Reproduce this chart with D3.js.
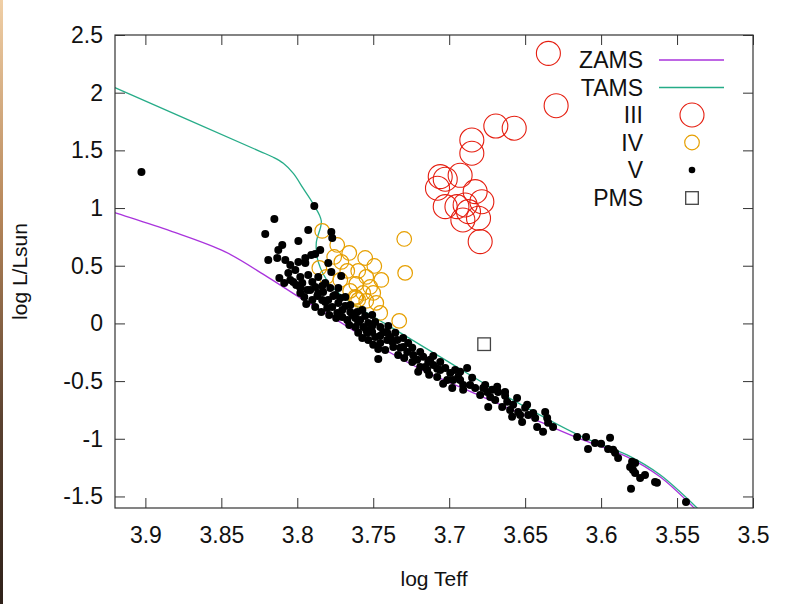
<!DOCTYPE html>
<html>
<head>
<meta charset="utf-8">
<script src="https://cdn.jsdelivr.net/npm/d3@7"></script>
<style>
  html, body { margin: 0; padding: 0; background: #fff; }
  svg { display: block; font-family: "Liberation Sans", Arial, sans-serif; }
</style>
</head>
<body>
<svg id="chart" width="792" height="604"></svg>
<script>
// HR diagram: log Teff vs log L/Lsun

const xTicks = [3.9, 3.85, 3.8, 3.75, 3.7, 3.65, 3.6, 3.55, 3.5];
const yTicks = [2.5, 2, 1.5, 1, 0.5, 0, -0.5, -1, -1.5];

// [log Teff, log L]
const zams = [
  [3.930, 1.003], [3.9197, 0.958], [3.8836, 0.802], [3.8474, 0.620], [3.8197, 0.403],
  [3.7980, 0.221], [3.7783, 0.065], [3.7520, -0.152], [3.7191, -0.394], [3.6796, -0.628],
  [3.6401, -0.854], [3.6138, -1.001], [3.5829, -1.157], [3.5612, -1.330], [3.5395, -1.590],
  [3.5350, -1.650]
];

const tams = [
  [3.930, 2.101], [3.9197, 2.041], [3.8250, 1.494], [3.8158, 1.440], [3.8092, 1.388],
  [3.8026, 1.300], [3.7961, 1.170], [3.7895, 1.035], [3.7842, 0.888], [3.7875, 0.698],
  [3.7862, 0.533], [3.7783, 0.334], [3.7651, 0.186], [3.7408, -0.013], [3.7059, -0.290],
  [3.6665, -0.602], [3.6138, -0.975], [3.5829, -1.140], [3.5612, -1.312], [3.5368, -1.599],
  [3.5330, -1.650]
];

const giantsIII = [
  [3.6347, 2.341], [3.6296, 1.887], [3.6693, 1.711], [3.6572, 1.692], [3.6851, 1.590],
  [3.6851, 1.475], [3.6928, 1.284], [3.7059, 1.272], [3.7026, 1.250], [3.7077, 1.172],
  [3.6829, 1.142], [3.6785, 1.055], [3.7026, 1.012], [3.6949, 1.012], [3.6895, 1.027],
  [3.6873, 0.969], [3.6910, 0.897], [3.6807, 0.912], [3.6796, 0.709]
];

const subgiantsIV = [
  [3.7836, 0.802], [3.7737, 0.680], [3.7658, 0.611], [3.7757, 0.576], [3.7296, 0.732],
  [3.7290, 0.438], [3.7493, 0.498], [3.7855, 0.481], [3.7809, 0.403], [3.7717, 0.377],
  [3.7671, 0.455], [3.7599, 0.455], [3.7546, 0.403], [3.7447, 0.377], [3.7612, 0.342],
  [3.7520, 0.316], [3.7652, 0.282], [3.7566, 0.264], [3.7612, 0.221], [3.7599, 0.204],
  [3.7618, 0.230], [3.7500, 0.264], [3.7546, 0.195], [3.7480, 0.178], [3.7454, 0.091],
  [3.7329, 0.022], [3.7553, 0.567], [3.7710, 0.533]
];

const dwarfsV = [
  [3.9026, 1.313], [3.8151, 0.906], [3.8211, 0.776], [3.7888, 1.018], [3.7928, 0.810],
  [3.7993, 0.715], [3.8099, 0.680], [3.8125, 0.637], [3.8191, 0.550], [3.8132, 0.568],
  [3.7776, 0.793], [3.7770, 0.741], [3.7849, 0.637], [3.7947, 0.524], [3.8046, 0.507],
  [3.8013, 0.464], [3.8059, 0.438], [3.7947, 0.568], [3.7908, 0.594], [3.7882, 0.602],
  [3.8118, 0.394], [3.7980, 0.403], [3.7928, 0.420], [3.7967, 0.351], [3.7862, 0.403],
  [3.7796, 0.524], [3.7776, 0.446], [3.7711, 0.412], [3.7934, 0.290], [3.7882, 0.316],
  [3.7816, 0.351], [3.7750, 0.247], [3.7684, 0.230], [3.7901, 0.204], [3.7816, 0.186],
  [3.7770, 0.143], [3.7882, 0.143], [3.7704, 0.117], [3.7980, 0.264], [3.7915, 0.290],
  [3.7836, 0.204], [3.7803, 0.134], [3.7763, 0.238], [3.7737, 0.091], [3.7704, 0.056],
  [3.7671, 0.030], [3.7638, 0.074], [3.7605, 0.100], [3.7586, 0.030], [3.7618, -0.030],
  [3.7566, -0.030], [3.7533, 0.004], [3.7507, 0.074], [3.7487, 0.013], [3.7454, -0.030],
  [3.7434, -0.074], [3.7408, -0.082], [3.7507, -0.074], [3.7540, -0.082], [3.7487, -0.117],
  [3.7533, -0.143], [3.7500, -0.186], [3.7454, -0.169], [3.7408, -0.143], [3.7375, -0.160],
  [3.7342, -0.143], [3.7368, -0.204], [3.7421, -0.230], [3.7322, -0.212], [3.7270, -0.169],
  [3.7276, -0.247], [3.7237, -0.273], [3.7211, -0.316], [3.7171, -0.290], [3.7138, -0.334],
  [3.7191, -0.377], [3.7145, -0.403], [3.7105, -0.360], [3.7079, -0.464], [3.7467, -0.308],
  [3.7125, -0.316], [3.7158, -0.377], [3.7059, -0.403], [3.7026, -0.386], [3.6993, -0.429],
  [3.7013, -0.490], [3.6974, -0.490], [3.6882, -0.386], [3.6928, -0.490], [3.6908, -0.533],
  [3.6862, -0.533], [3.6829, -0.559], [3.6908, -0.576], [3.6796, -0.620], [3.6750, -0.594],
  [3.6717, -0.576], [3.6678, -0.594], [3.6730, -0.637], [3.6697, -0.663], [3.6743, -0.724],
  [3.6651, -0.724], [3.6618, -0.680], [3.6579, -0.706], [3.6599, -0.750], [3.6586, -0.810],
  [3.6546, -0.767], [3.6533, -0.793], [3.6480, -0.793], [3.6447, -0.776], [3.6520, -0.854],
  [3.6434, -0.819], [3.6421, -0.897], [3.6355, -0.819], [3.6349, -0.862], [3.6316, -0.897],
  [3.6382, -0.940], [3.6158, -0.984], [3.6099, -0.984], [3.6086, -1.088], [3.6040, -1.036],
  [3.6000, -1.044], [3.5941, -0.992], [3.5954, -1.088], [3.5921, -1.096], [3.5908, -1.122],
  [3.5888, -1.166], [3.5796, -1.200], [3.5776, -1.209], [3.5809, -1.244], [3.5790, -1.270],
  [3.5776, -1.296], [3.5743, -1.339], [3.5711, -1.313], [3.5645, -1.374], [3.5632, -1.382],
  [3.5803, -1.434], [3.5441, -1.547],
  [3.8007, 0.334], [3.7954, 0.230], [3.7862, 0.264], [3.7842, 0.100], [3.7790, 0.074],
  [3.7730, 0.178], [3.7651, 0.160], [3.7658, -0.013], [3.7599, -0.082], [3.7572, -0.126],
  [3.7467, -0.221], [3.7336, -0.273], [3.7296, -0.299], [3.7243, -0.334], [3.7204, -0.420],
  [3.7132, -0.446], [3.7040, -0.524], [3.6980, -0.559], [3.8046, 0.377], [3.8079, 0.550],
  [3.7830, 0.273], [3.7783, 0.308], [3.7618, 0.048], [3.7553, 0.065], [3.7388, -0.117],
  [3.7303, -0.204], [3.7079, -0.394], [3.6941, -0.464], [3.6776, -0.559], [3.6632, -0.628],
  [3.6500, -0.732],
  [3.8086, 0.351], [3.8026, 0.360], [3.7901, 0.360], [3.7836, 0.325], [3.7730, 0.308],
  [3.7868, 0.238], [3.7796, 0.204], [3.7717, 0.221], [3.7744, 0.048], [3.7651, 0.100],
  [3.7572, 0.117], [3.7599, 0.013], [3.7507, -0.022], [3.7401, -0.022], [3.7355, -0.082],
  [3.7454, -0.108], [3.7303, -0.126], [3.7243, -0.212], [3.7191, -0.247], [3.7105, -0.282],
  [3.7059, -0.334], [3.6961, -0.403], [3.6928, -0.420], [3.6849, -0.472], [3.6763, -0.533],
  [3.6684, -0.550], [3.6632, -0.594], [3.6553, -0.646], [3.6487, -0.706], [3.6368, -0.767],
  [3.7993, 0.533], [3.7980, 0.308], [3.7941, 0.169], [3.7684, 0.152], [3.7546, -0.056]
];

const pms = [[3.677, -0.18]];

const legendLabels = ["ZAMS", "TAMS", "III", "IV", "V", "PMS"];

const colors = {
  zams: "#9400d3",
  tams: "#009e73",
  iii: "#e51e10",
  iv: "#e69f00",
  v: "#000000",
  pms: "#444444"
};

const W = 792, H = 604;
const margin = { left: 115, right: 39, top: 35, bottom: 96 };
const plotW = W - margin.left - margin.right;
const plotH = H - margin.top - margin.bottom;

const svg = d3.select("#chart");

// thin decorative strip on the left edge
const defs = svg.append("defs");
const grad = defs.append("linearGradient")
  .attr("id", "edge").attr("x1", 0).attr("y1", 0).attr("x2", 0).attr("y2", 1);
grad.append("stop").attr("offset", "0%").attr("stop-color", "#f0cfa6");
grad.append("stop").attr("offset", "35%").attr("stop-color", "#b7875a");
grad.append("stop").attr("offset", "70%").attr("stop-color", "#5a4130");
grad.append("stop").attr("offset", "100%").attr("stop-color", "#2e2119");
svg.append("rect").attr("x", 0).attr("y", 0).attr("width", 3).attr("height", H)
  .attr("fill", "url(#edge)");

defs.append("clipPath").attr("id", "plotclip")
  .append("rect").attr("width", plotW).attr("height", plotH);

const x = d3.scaleLinear().domain([3.92, 3.5]).range([0, plotW]);
const y = d3.scaleLinear().domain([-1.6, 2.5]).range([plotH, 0]);

const g = svg.append("g").attr("transform", `translate(${margin.left},${margin.top})`);

// axes (ticks inward, mirrored)
const fmt = (d) => String(d);
const tickFont = "23px";

const xAxis = g.append("g").attr("transform", `translate(0,${plotH})`)
  .call(d3.axisBottom(x).tickValues(xTicks).tickSize(-10).tickPadding(19).tickFormat(fmt));
const xTop = g.append("g")
  .call(d3.axisTop(x).tickValues(xTicks).tickSize(-10).tickFormat(""));
const yAxis = g.append("g")
  .call(d3.axisLeft(y).tickValues(yTicks).tickSize(-10).tickPadding(12).tickFormat(fmt));
const yRight = g.append("g").attr("transform", `translate(${plotW},0)`)
  .call(d3.axisRight(y).tickValues(yTicks).tickSize(-10).tickFormat(""));

[xAxis, xTop, yAxis, yRight].forEach((a) => {
  a.select(".domain").remove();
  a.selectAll(".tick line").attr("stroke", "#333").attr("stroke-width", 1);
  a.selectAll("text").attr("fill", "#111").style("font-size", tickFont)
    .style("font-family", "'Liberation Sans', Arial, sans-serif");
});

const plot = g.append("g").attr("clip-path", "url(#plotclip)");

const line = d3.line().x((d) => x(d[0])).y((d) => y(d[1]))
  .curve(d3.curveCatmullRom.alpha(0.5));

plot.append("path").datum(zams).attr("d", line)
  .attr("fill", "none").attr("stroke", colors.zams).attr("stroke-width", 1.3).attr("opacity", 0.8);
plot.append("path").datum(tams).attr("d", line)
  .attr("fill", "none").attr("stroke", colors.tams).attr("stroke-width", 1.3).attr("opacity", 0.85);

plot.append("g").selectAll("circle").data(giantsIII).join("circle")
  .attr("cx", (d) => x(d[0])).attr("cy", (d) => y(d[1])).attr("r", 12)
  .attr("fill", "none").attr("stroke", colors.iii).attr("stroke-width", 1.1);

plot.append("g").selectAll("circle").data(subgiantsIV).join("circle")
  .attr("cx", (d) => x(d[0])).attr("cy", (d) => y(d[1])).attr("r", 7.3)
  .attr("fill", "none").attr("stroke", colors.iv).attr("stroke-width", 1.2);

plot.append("g").selectAll("circle").data(dwarfsV).join("circle")
  .attr("cx", (d) => x(d[0])).attr("cy", (d) => y(d[1])).attr("r", 4.0)
  .attr("fill", colors.v);

plot.append("g").selectAll("rect").data(pms).join("rect")
  .attr("x", (d) => x(d[0]) - 6.3).attr("y", (d) => y(d[1]) - 6.3)
  .attr("width", 12.6).attr("height", 12.6)
  .attr("fill", "none").attr("stroke", colors.pms).attr("stroke-width", 1.3);

// frame
g.append("rect").attr("width", plotW).attr("height", plotH)
  .attr("fill", "none").attr("stroke", "#333").attr("stroke-width", 1.2);

// legend
const legend = svg.append("g");
const legY = [60, 87.5, 115, 142.5, 170, 198];
const textX = 643, symX = 692, lineX0 = 659, lineX1 = 724;

legendLabels.forEach((lab, i) => {
  legend.append("text").attr("x", textX).attr("y", legY[i]).attr("dy", "0.36em")
    .attr("text-anchor", "end").attr("fill", "#111").style("font-size", "23px").text(lab);
});
legend.append("line").attr("x1", lineX0).attr("x2", lineX1).attr("y1", legY[0]).attr("y2", legY[0])
  .attr("stroke", colors.zams).attr("stroke-width", 1.3).attr("opacity", 0.8);
legend.append("line").attr("x1", lineX0).attr("x2", lineX1).attr("y1", legY[1]).attr("y2", legY[1])
  .attr("stroke", colors.tams).attr("stroke-width", 1.3).attr("opacity", 0.85);
legend.append("circle").attr("cx", symX).attr("cy", legY[2]).attr("r", 12)
  .attr("fill", "none").attr("stroke", colors.iii).attr("stroke-width", 1.1);
legend.append("circle").attr("cx", symX).attr("cy", legY[3]).attr("r", 7.3)
  .attr("fill", "none").attr("stroke", colors.iv).attr("stroke-width", 1.2);
legend.append("circle").attr("cx", symX).attr("cy", legY[4]).attr("r", 3.3)
  .attr("fill", colors.v);
legend.append("rect").attr("x", symX - 6.3).attr("y", legY[5] - 6.3).attr("width", 12.6).attr("height", 12.6)
  .attr("fill", "none").attr("stroke", colors.pms).attr("stroke-width", 1.3);

// axis titles
svg.append("text").attr("x", margin.left + plotW / 2).attr("y", 586)
  .attr("text-anchor", "middle").attr("fill", "#111").style("font-size", "21px").text("log Teff");
svg.append("text").attr("transform", `translate(20,${margin.top + plotH / 2}) rotate(-90)`)
  .attr("dy", "0.35em").attr("text-anchor", "middle").attr("fill", "#111")
  .style("font-size", "21px").text("log L/Lsun");
</script>
</body>
</html>
